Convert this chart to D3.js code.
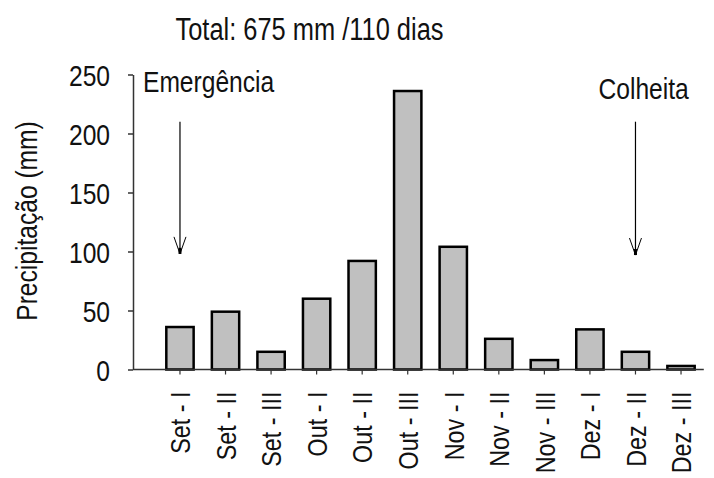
<!DOCTYPE html>
<html>
<head>
<meta charset="utf-8">
<script src="https://cdn.jsdelivr.net/npm/d3@7"></script>
<style>
  body { margin: 0; background: #fff; }
  svg text { font-family: "Liberation Sans Narrow", "Arial Narrow", "Liberation Sans", Arial, sans-serif; fill: #111; }
</style>
</head>
<body>
<svg id="chart"></svg>
<script>
// decêndios (periodos de 10 dias)
const categories = ["Set - I", "Set - II", "Set - III", "Out - I", "Out - II", "Out - III",
                    "Nov - I", "Nov - II", "Nov - III", "Dez - I", "Dez - II", "Dez - III"];
const precipitacao = [36, 49, 15, 60, 92, 236, 104, 26, 8, 34, 15, 3];
const yTicks = [0, 50, 100, 150, 200, 250];
const titulo = "Total: 675 mm /110 dias";
// anotacoes: categoria, texto, topo/ponta da seta e altura do texto (em mm)
const anotCat = ["Set - I", "Dez - II"];
const anotTexto = ["Emergência", "Colheita"];
const anotTexto_y = [235.5, 229];
const anotSetaTopo = [210, 210];
const anotSetaPonta = [98, 97];

const w = 714;
const h = 478;

const svg = d3.select("#chart")
              .attr("width", w)
              .attr("height", h);

const xScale = d3.scaleBand()
                 .domain(categories)
                 .range([157.2, 703.8])
                 .paddingInner(0.4)
                 .paddingOuter(0.2);

const yScale = d3.scaleLinear()
                 .domain([0, 250])
                 .range([369.5, 74.5]);

const x0 = 133; // posicao do eixo y

// titulo
svg.append("text")
   .attr("x", 309.5)
   .attr("y", 40)
   .attr("text-anchor", "middle")
   .style("font-size", "31px")
   .text(titulo);

// barras
svg.selectAll("rect.bar")
   .data(precipitacao)
   .enter()
   .append("rect")
   .attr("class", "bar")
   .attr("x", (d, i) => xScale(categories[i]))
   .attr("y", d => yScale(d))
   .attr("width", xScale.bandwidth())
   .attr("height", d => yScale(0) - yScale(d))
   .attr("fill", "#c0c0c0")
   .attr("stroke", "#000")
   .attr("stroke-width", 2.5);

// eixo y
const yAxis = d3.axisLeft(yScale)
                .tickValues(yTicks)
                .tickSize(5)
                .tickPadding(18)
                .tickSizeOuter(0);

const gy = svg.append("g")
              .attr("transform", "translate(" + x0 + ",0)")
              .call(yAxis);
gy.select(".domain").attr("stroke", "#333").attr("stroke-width", 1.5);
gy.selectAll(".tick line").attr("stroke", "#333").attr("stroke-width", 1.5);
gy.selectAll(".tick text")
  .style("font-size", "30px")
  .attr("fill", "#111")
  .attr("dy", "0.36em");

// eixo x
const xAxis = d3.axisBottom(xScale)
                .tickSize(5)
                .tickSizeOuter(0);

const gx = svg.append("g")
              .attr("transform", "translate(0," + yScale(0) + ")")
              .call(xAxis);
gx.select(".domain").remove();
gx.selectAll(".tick line").attr("stroke", "#333").attr("stroke-width", 1.2);
gx.selectAll(".tick text")
  .style("font-size", "28.5px")
  .attr("fill", "#111")
  .attr("text-anchor", "end")
  .attr("transform", "rotate(-90)")
  .attr("x", -22)
  .attr("y", 0)
  .attr("dy", "0.36em");

gx.append("line")
  .attr("x1", x0)
  .attr("x2", 703.8)
  .attr("y1", 0)
  .attr("y2", 0)
  .attr("stroke", "#333")
  .attr("stroke-width", 1.5);

// titulo do eixo y
svg.append("text")
   .attr("transform", "translate(37," + 221 + ") rotate(-90)")
   .attr("text-anchor", "middle")
   .style("font-size", "30px")
   .text("Precipitação (mm)");

// anotacoes com setas
anotCat.forEach((c, i) => {
  const cx = xScale(c) + xScale.bandwidth() / 2;
  svg.append("text")
     .attr("x", cx - 37)
     .attr("y", yScale(anotTexto_y[i]))
     .style("font-size", "30px")
     .text(anotTexto[i]);

  const yTop = yScale(anotSetaTopo[i]);
  const yTip = yScale(anotSetaPonta[i]);
  svg.append("line")
     .attr("x1", cx).attr("x2", cx)
     .attr("y1", yTop).attr("y2", yTip)
     .attr("stroke", "#000")
     .attr("stroke-width", 1.2);
  svg.append("path")
     .attr("d", "M" + (cx - 6) + "," + (yTip - 17) + "L" + cx + "," + yTip + "L" + (cx + 6) + "," + (yTip - 17))
     .attr("fill", "none")
     .attr("stroke", "#000")
     .attr("stroke-width", 1);
  svg.append("rect")
     .attr("x", cx - 1.5)
     .attr("y", yTip - 6)
     .attr("width", 3)
     .attr("height", 6)
     .attr("fill", "#000");
});

// sem fonte "narrow" instalada: comprime o texto na horizontal (~82%)
svg.selectAll("text").each(function() {
  const len = this.getComputedTextLength();
  d3.select(this)
    .attr("textLength", len * 0.82)
    .attr("lengthAdjust", "spacingAndGlyphs");
});
</script>
</body>
</html>
